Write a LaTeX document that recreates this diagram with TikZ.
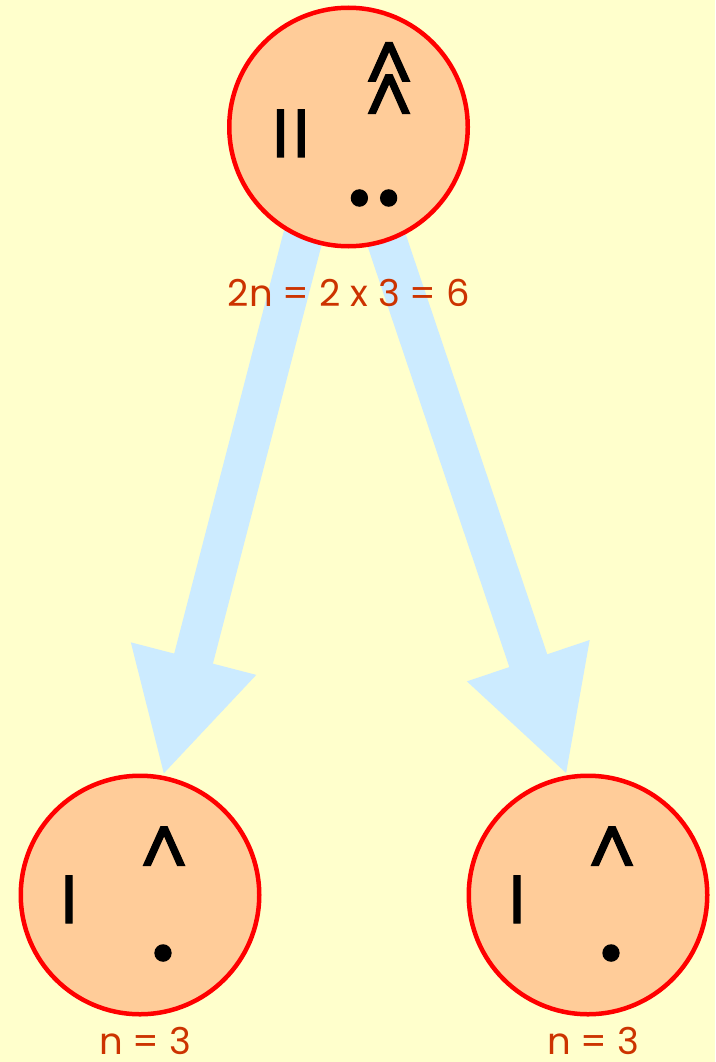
\documentclass[tikz,border=0pt]{standalone}
\usepackage{fontspec}
\setmainfont{Poppins}
\newfontfamily\symbolfont{Poppins}[FakeBold=1.6]
\usetikzlibrary{arrows.meta,backgrounds}
\definecolor{paleyellow}{HTML}{FFFFCC}
\definecolor{peach}{HTML}{FFCC99}
\definecolor{skyblue}{HTML}{CCEBFF}
\definecolor{rust}{HTML}{CC3300}

\begin{document}
\begin{tikzpicture}[x=1pt, y=-1pt,
    cell/.style={circle, draw=red, line width=4.5pt, fill=peach, minimum size=238.5pt, inner sep=0pt},
    glyph/.style={anchor=base, inner sep=0pt, align=center, font=\symbolfont\fontsize{#1}{33}\selectfont},
    count/.style={anchor=base, inner sep=0pt, text=rust, font=\fontsize{37}{37}\selectfont},
    flow/.style={draw=skyblue, line width=40pt, -{Triangle[length=121pt,width=120pt]}}]
    \useasboundingbox (0,0) rectangle (715,1062);

    % --- Cells ---
    \node[cell] (top) at (348.5,127) {};
    \node[cell] (left) at (140,895) {};
    \node[cell] (right) at (588,895) {};

    % --- Cell 2n ---
    \node[glyph=68] (top-bars) at (291,157) {I\kern4pt I};
    \node[glyph=74] (top-hats) at (389,126) {\textasciicircum\\[-20pt]\textasciicircum};
    \node[glyph=125] (top-dots) at (374,205) {.\kern3pt.};
    \node[count] (top-count) at (349,306) {2n = 2 x 3 = 6};

    % --- Cell n, left ---
    \node[glyph=68] (left-bar) at (69,923) {I};
    \node[glyph=74] (left-hat) at (164,878) {\textasciicircum};
    \node[glyph=125] (left-dot) at (163,960) {.};
    \node[count] (left-count) at (145,1054) {n = 3};

    % --- Cell n, right ---
    \node[glyph=68] (right-bar) at (517,923) {I};
    \node[glyph=74] (right-hat) at (612,878) {\textasciicircum};
    \node[glyph=125] (right-dot) at (611,960) {.};
    \node[count] (right-count) at (593,1054) {n = 3};

    % --- Division arrows ---
    \begin{scope}[on background layer]
        \fill[paleyellow] (0,0) rectangle (715,1062);
        \draw[flow] ([xshift=-17pt]top.center) -- (left.79);
        \draw[flow] (top.center) -- (right.100);
    \end{scope}
\end{tikzpicture}
\end{document}
